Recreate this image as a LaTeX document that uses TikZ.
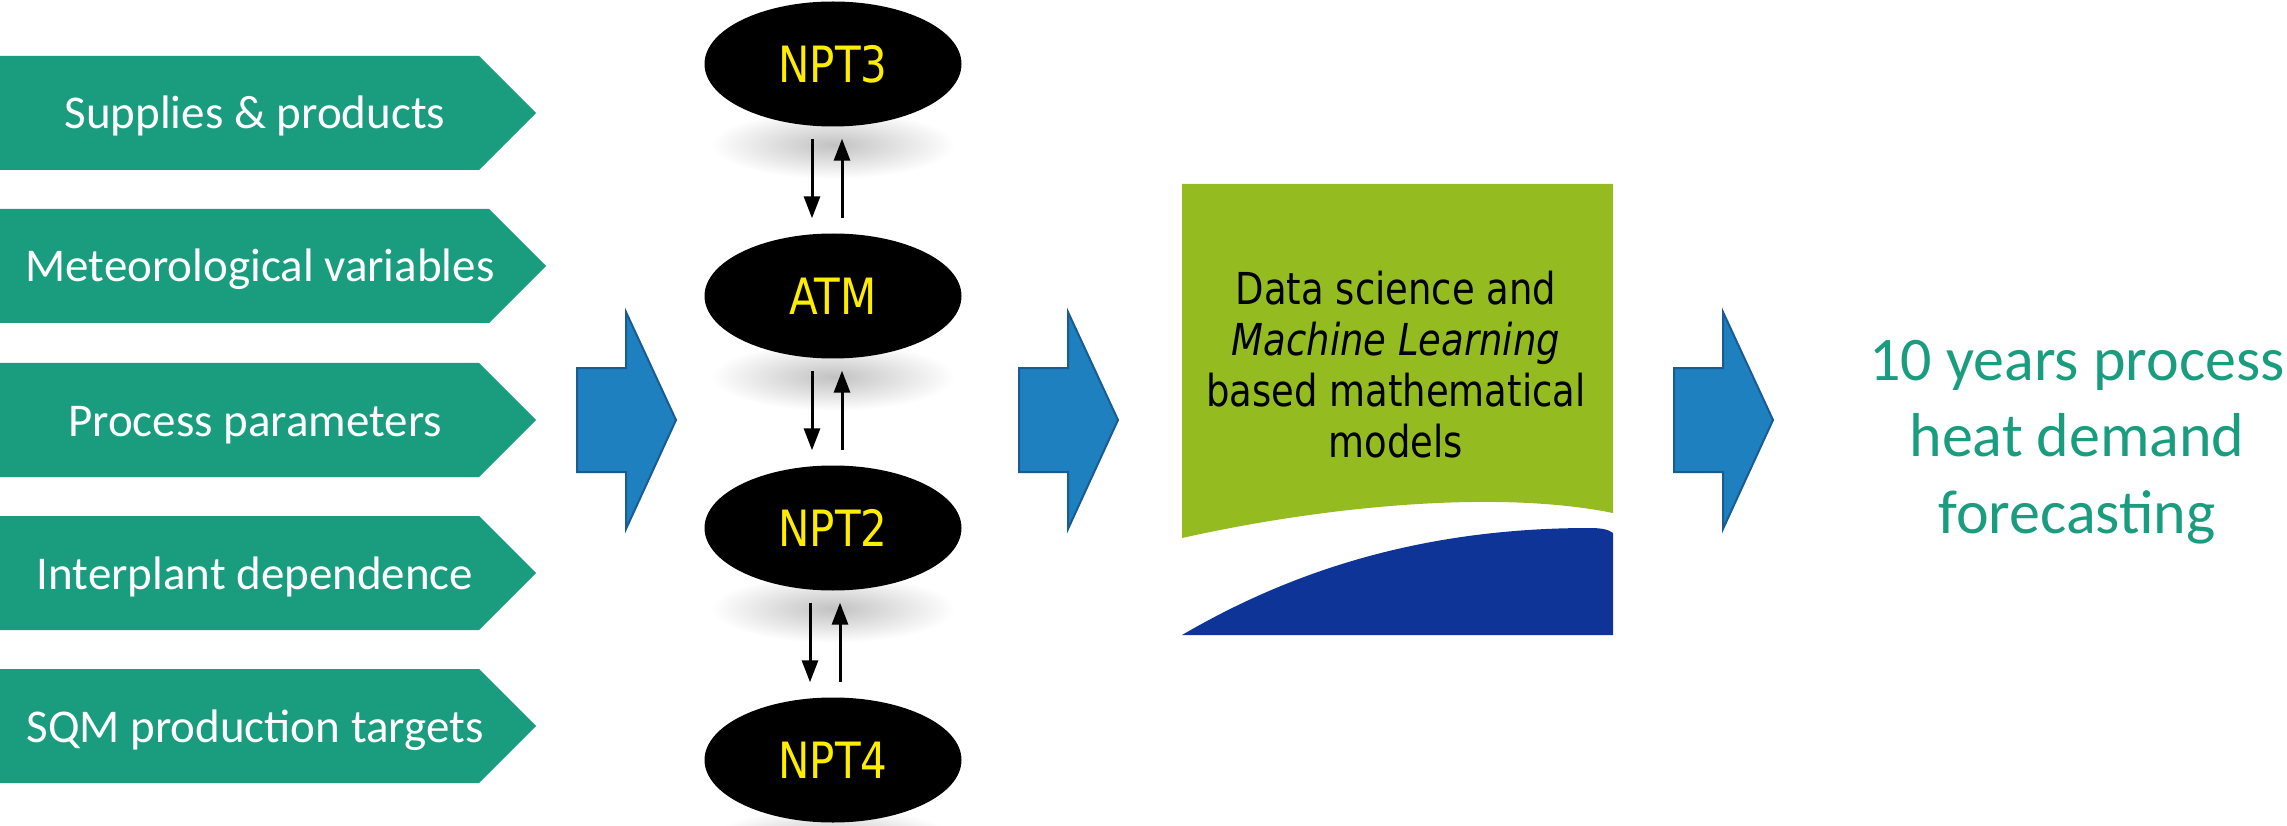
\documentclass[tikz,border=0pt]{standalone}
\usepackage{fontspec}
\usetikzlibrary{arrows.meta,calc,shapes.geometric}
\newfontfamily\calfont{Carlito}
\newfontfamily\tahfont[FakeStretch=0.84]{DejaVu Sans}
\definecolor{tealA}{RGB}{26,157,126}
\definecolor{arrowblue}{RGB}{31,128,192}
\definecolor{arrowedge}{RGB}{25,92,145}
\definecolor{logogreen}{RGB}{148,187,31}
\definecolor{logoblue}{RGB}{14,52,152}
\definecolor{yel}{RGB}{255,237,0}
\pgfdeclarelayer{bg}
\pgfsetlayers{bg,main}
\tikzset{
  inbox/.style={fill=tealA, draw=none},
  lab/.style={text=white, font=\calfont\fontsize{47}{56}\selectfont, anchor=base, inner sep=0pt},
  ell/.style={ellipse, fill=black, minimum width=257pt, minimum height=125pt, inner sep=0pt,
              text=yel, font=\tahfont\fontsize{50}{60}\selectfont},
  conn/.style={line width=3pt, -{Triangle[width=16pt,length=22pt]}},
  bigarrow/.style={fill=arrowblue, draw=arrowedge, line width=2pt, line join=miter},
  shadowfx/.style={inner color=black!24, outer color=white}
}
\begin{document}
\begin{tikzpicture}[x=1pt,y=-1pt]
\useasboundingbox (0,0) rectangle (2287,826);

% input pentagons
\foreach \t/\r in {56/479, 209/489, 363/479, 516/479, 669/479}{
  \fill[inbox] (0,\t) -- (\r,\t) -- ({\r+57},{\t+57}) -- (\r,{\t+114}) -- (0,{\t+114}) -- cycle;
}
\node[lab] (in1) at (255,129) {Supplies \& products};
\node[lab] (in2) at (260,282) {Meteorological variables};
\node[lab] (in3) at (255,436) {Process parameters};
\node[lab] (in4) at (255,589) {Interplant dependence};
\node[lab] (in5) at (255,742) {SQM production targets};

% big blue arrows
\foreach \x in {577,1019,1674}{
  \draw[bigarrow, shift={(\x,0)}] (0,368) -- (49,368) -- (49,312) -- (99,420) -- (49,529) -- (49,472) -- (0,472) -- cycle;
}

% plant ellipses
\node[ell] (npt3) at (833,64) {NPT3};
\node[ell] (atm) at (833,296) {ATM};
\node[ell] (npt2) at (833,528) {NPT2};
\node[ell] (npt4) at (833,760) {NPT4};

\begin{pgfonlayer}{bg}
  \foreach \n in {npt3,atm,npt2,npt4}{
    \shade[shadowfx] ($(\n.south)+(0,18)$) ellipse [x radius=122pt, y radius=34pt];
  }
\end{pgfonlayer}

\draw[conn] ($(npt3.south)+(-21,12)$) -- ($(atm.north)+(-21,-15)$);
\draw[conn] ($(atm.north)+(9,-15)$) -- ($(npt3.south)+(9,12)$);
\draw[conn] ($(atm.south)+(-21,12)$) -- ($(npt2.north)+(-21,-15)$);
\draw[conn] ($(npt2.north)+(9,-15)$) -- ($(atm.south)+(9,12)$);
\draw[conn] ($(npt2.south)+(-23,12)$) -- ($(npt4.north)+(-23,-15)$);
\draw[conn] ($(npt4.north)+(7,-15)$) -- ($(npt2.south)+(7,12)$);

% model logo box
\fill[logogreen] (1182,184) -- (1613,184) -- (1613,513)
  .. controls (1500,490) and (1330,505) .. (1182,538) -- cycle;
\fill[logoblue] (1182,635) .. controls (1290,572) and (1420,528) .. (1590,528)
  .. controls (1603,528) and (1609,530) .. (1613,533) -- (1613,635) -- cycle;
\node[font=\tahfont\fontsize{44}{51}\selectfont, align=center, text=black] (model) at (1396,365)
  {Data science and\\\textit{Machine Learning}\\based mathematical\\models};

% output
\node[font=\calfont\fontsize{62}{76.5}\selectfont, align=center, text=tealA] (out) at (2077,442)
  {10 years process\\heat demand\\forecasting};
\end{tikzpicture}
\end{document}
